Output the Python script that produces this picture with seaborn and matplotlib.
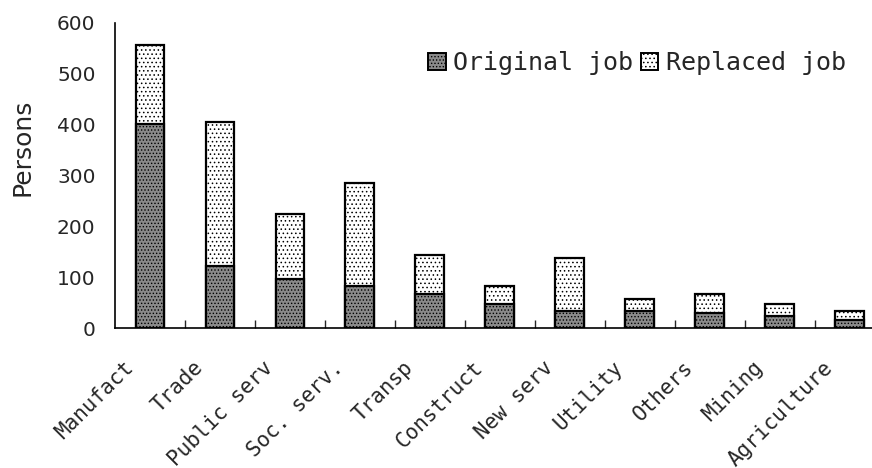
import numpy as np
import pandas as pd
import matplotlib.pyplot as plt
import matplotlib.transforms as mtransforms
import seaborn as sns
from matplotlib.patches import Patch

# Data
sectors = ['Manufact', 'Trade', 'Public serv', 'Soc. serv.', 'Transp', 'Construct',
           'New serv', 'Utility', 'Others', 'Mining', 'Agriculture']
original_job = np.array([400, 122, 97, 82, 67, 48, 34, 34, 29, 23, 15])
replaced_job = np.array([156, 282, 126, 203, 77, 34, 103, 23, 38, 25, 19])
y_ticks = [0, 100, 200, 300, 400, 500, 600]

df = pd.DataFrame({'sector': sectors,
                   'original': original_job,
                   'total': original_job + replaced_job})

sns.set_style('white')
plt.rcParams['font.family'] = ['DejaVu Sans']
plt.rcParams['hatch.linewidth'] = 0.6

fig = plt.figure(figsize=(8.72, 4.68), dpi=100)
ax = fig.add_axes([115 / 872, 140 / 468, 1 - 115 / 872, (328 - 22.5) / 468])

# stacked: totals (replaced on top) drawn first, original drawn over them
sns.barplot(data=df, x='sector', y='total', color='white', width=0.41,
            edgecolor='black', linewidth=1.6, saturation=1, ax=ax)
n = len(sectors)
for p in ax.patches[:n]:
    p.set_hatch('....')
sns.barplot(data=df, x='sector', y='original', color='#8a8a8a', width=0.41,
            edgecolor='black', linewidth=1.6, saturation=1, ax=ax)
for p in ax.patches[n:]:
    p.set_hatch('.....')

ax.set_xlim(-0.5, (872 - 149.5) / 70)
ax.set_ylim(0, 600)
ax.set_yticks(y_ticks)
ax.set_yticklabels([str(v) for v in y_ticks], fontsize=14.5)
ax.tick_params(axis='y', direction='in', length=6, width=1, pad=14)

ax.set_xticks(range(n))
ax.set_xticklabels(sectors, rotation=45, ha='right', va='top', rotation_mode='anchor',
                   family='DejaVu Sans Mono', fontsize=15)
ax.tick_params(axis='x', which='major', length=0, pad=21)
shift = mtransforms.ScaledTranslation(-27 / 100, 0, fig.dpi_scale_trans)
for lbl in ax.get_xticklabels():
    lbl.set_transform(lbl.get_transform() + shift)
ax.set_xticks(np.arange(0.5, n - 1, 1), minor=True)
ax.tick_params(axis='x', which='minor', direction='in', length=6, width=1, bottom=True)

ax.set_xlabel('')
ax.set_ylabel('Persons', fontsize=18)
ax.yaxis.set_label_coords((35 - 115) / 757, (328 - 147.5) / 305.5)

for side in ['top', 'right']:
    ax.spines[side].set_visible(False)
for side in ['left', 'bottom']:
    ax.spines[side].set_linewidth(1.2)
    ax.spines[side].set_color('black')

handles = [Patch(facecolor='#8a8a8a', edgecolor='black', hatch='.....', linewidth=1.4, label='Original job'),
           Patch(facecolor='white', edgecolor='black', hatch='....', linewidth=1.4, label='Replaced job')]
ax.legend(handles=handles, loc='upper right', bbox_to_anchor=(0.995, 0.98), ncol=2, frameon=False,
          prop={'family': 'DejaVu Sans Mono', 'size': 18}, handlelength=0.7, handleheight=0.7,
          handletextpad=0.3, columnspacing=0.3)

fig.savefig('out.png', dpi=100)
